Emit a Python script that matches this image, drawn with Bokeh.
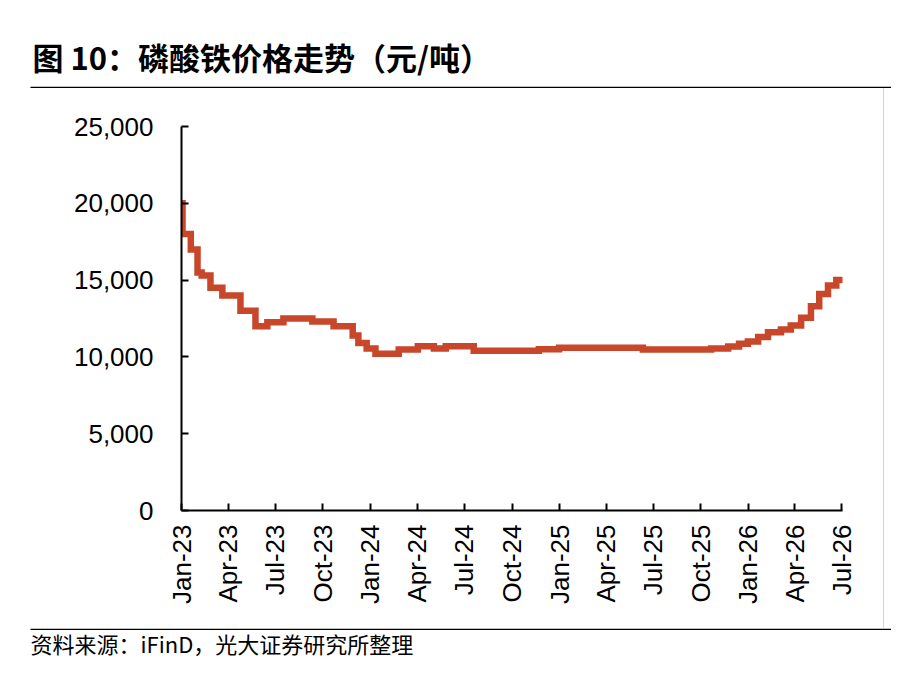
import pandas as pd
from bokeh.plotting import figure
from bokeh.layouts import column, row
from bokeh.models import (Range1d, FixedTicker, DatetimeTickFormatter, NumeralTickFormatter,
                          ColumnDataSource, Div)
from bokeh.core.properties import value
from bokeh.embed import file_html
from bokeh.resources import INLINE
from math import pi

# ---- data ----
dates = ["2023-01-01", "2023-01-03", "2023-01-19", "2023-02-01", "2023-02-09", "2023-02-26",
         "2023-03-21", "2023-04-25", "2023-05-24", "2023-06-16", "2023-07-17", "2023-09-11",
         "2023-10-22", "2023-11-28", "2023-12-09", "2023-12-25", "2024-01-11", "2024-02-25",
         "2024-04-02", "2024-05-03", "2024-05-26", "2024-07-19", "2024-11-22", "2024-12-31",
         "2025-06-11", "2025-10-21", "2025-11-23", "2025-12-14", "2025-12-31", "2026-01-20",
         "2026-02-08", "2026-03-05", "2026-03-24", "2026-04-13", "2026-05-02", "2026-05-18",
         "2026-06-04", "2026-06-20", "2026-07-03"]
prices = [20000, 18000, 17000, 15500, 15300, 14500,
          14000, 13000, 12000, 12250, 12500, 12300,
          12000, 11400, 10900, 10550, 10200, 10480,
          10700, 10550, 10700, 10400, 10500, 10600,
          10480, 10550, 10680, 10850, 11000, 11300,
          11600, 11780, 12050, 12550, 13300, 14100,
          14650, 15000, 15100]
tick_dates = ["2023-01-01", "2023-04-01", "2023-07-01", "2023-10-01",
              "2024-01-01", "2024-04-01", "2024-07-01", "2024-10-01",
              "2025-01-01", "2025-04-01", "2025-07-01", "2025-10-01",
              "2026-01-01", "2026-04-01", "2026-07-01"]
y_ticks = [0, 5000, 10000, 15000, 20000, 25000]
title_text = "图 10：磷酸铁价格走势（元/吨）"
source_text = "资料来源：iFinD，光大证券研究所整理"

LINE_COLOR = "#C8472A"
AXIS_FONT = "Liberation Sans"
CJK_FONT = "Noto Sans CJK SC"
W = 891


def blank(width, height):
    f = figure(width=width, height=height, output_backend="svg", toolbar_location=None,
               x_range=Range1d(0, width), y_range=Range1d(height, 0),
               min_border=0, x_axis_location=None, y_axis_location=None)
    f.outline_line_color = None
    f.grid.visible = False
    f.background_fill_color = "white"
    f.border_fill_color = "white"
    return f


# ---- title strip ----
top = blank(W, 88)
top.text(x=[32], y=[56], text=[title_text], text_font=value(CJK_FONT),
         text_font_size=value("31px"), text_font_style="bold", text_color="black",
         text_baseline="middle", text_align="left")
top.segment(x0=[30], y0=[87], x1=[W], y1=[87], line_color="black", line_width=1.6)

# ---- main chart ----
x = pd.to_datetime(dates)
src = ColumnDataSource(dict(x=x, y=prices))
tick_ms = [int(pd.Timestamp(d).value // 10**6) for d in tick_dates]

p = figure(width=883, height=540, output_backend="svg", toolbar_location=None,
           x_axis_type="datetime",
           x_range=Range1d(pd.Timestamp("2023-01-01"), pd.Timestamp("2026-07-02")),
           y_range=Range1d(0, 25000),
           min_border_left=181, min_border_right=41, min_border_top=38, min_border_bottom=118)
p.outline_line_color = None
p.background_fill_color = "white"
p.border_fill_color = "white"
p.xgrid.visible = False
p.ygrid.visible = False

p.step("x", "y", source=src, mode="after", line_color=LINE_COLOR, line_width=6.5,
       line_join="miter")

for ax in (p.xaxis[0], p.yaxis[0]):
    ax.axis_line_color = "black"
    ax.axis_line_width = 2
    ax.major_tick_line_color = "black"
    ax.major_tick_line_width = 2
    ax.major_tick_in = 7
    ax.major_tick_out = 0
    ax.minor_tick_line_color = None
    ax.major_label_text_font = AXIS_FONT
    ax.major_label_text_font_size = "26px"
    ax.major_label_text_color = "black"

p.xaxis.ticker = FixedTicker(ticks=tick_ms)
fmt = "%b-%y"
p.xaxis.formatter = DatetimeTickFormatter(days=fmt, months=fmt, years=fmt, hours=fmt,
                                          minutes=fmt, seconds=fmt, milliseconds=fmt,
                                          microseconds=fmt, minsec=fmt, hourmin=fmt)
p.xaxis.major_label_orientation = pi / 2
p.xaxis.major_label_standoff = 14

p.yaxis.ticker = FixedTicker(ticks=y_ticks)
p.yaxis.formatter = NumeralTickFormatter(format="0,0")
p.yaxis.major_label_standoff = 28

# thin grey rule on the right of the chart
side = Div(text="", width=W - 883, height=540, margin=(0, 0, 0, 0),
           styles={"border-left": "1px solid #D4D4D4", "box-sizing": "border-box",
                   "height": "540px", "padding": "0", "overflow": "hidden"})

# ---- source strip ----
bottom = blank(W, 54)
bottom.segment(x0=[30], y0=[0.8], x1=[W], y1=[0.8], line_color="black", line_width=1.6)
bottom.text(x=[30], y=[14], text=[source_text], text_font=value(CJK_FONT),
            text_font_size=value("22px"), text_color="black",
            text_baseline="middle", text_align="left")

layout = column(top, row(p, side, spacing=0), bottom, spacing=0)
open("out.html", "w").write(file_html(layout, INLINE))
